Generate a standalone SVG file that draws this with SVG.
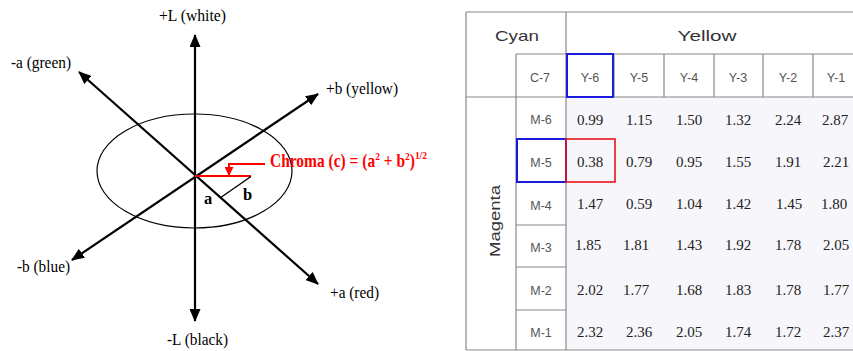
<svg xmlns="http://www.w3.org/2000/svg" width="853" height="351" viewBox="0 0 853 351">
<style>
.lbl{font-family:"Liberation Serif","Times New Roman",serif;font-size:16.5px;fill:#000}
.axis{stroke:#000;stroke-width:2.2;fill:none}
.grid{stroke:#888;stroke-width:1.2;fill:none}
.hd{font-family:"Liberation Sans",Arial,sans-serif;font-size:15px;fill:#333;text-anchor:middle}
.sm{font-family:"Liberation Sans",Arial,sans-serif;font-size:12.5px;fill:#555;text-anchor:middle}
.num{font-family:"Liberation Serif","Times New Roman",serif;font-size:15px;fill:#222;text-anchor:middle}
.red{fill:#f00;font-family:"Liberation Serif","Times New Roman",serif;font-weight:bold;font-size:18px}
</style>
<defs>
<marker id="ah" markerUnits="userSpaceOnUse" markerWidth="14" markerHeight="11" refX="12" refY="5.5" orient="auto-start-reverse">
<path d="M0,0 L13,5.5 L0,11 z" fill="#000"/>
</marker>
<marker id="rh" markerUnits="userSpaceOnUse" markerWidth="10" markerHeight="9" refX="8" refY="4.5" orient="auto">
<path d="M0,0 L9,4.5 L0,9 z" fill="#f00"/>
</marker>
</defs>
<rect width="853" height="351" fill="#fff"/>

<!-- Left: colour space diagram -->
<g id="ellipse"><ellipse cx="194.5" cy="171" rx="97.5" ry="57" fill="none" stroke="#000" stroke-width="1.2"/></g>
<g id="connectors">
<line class="axis" x1="195" y1="35" x2="195" y2="321" marker-start="url(#ah)" marker-end="url(#ah)"/>
<line class="axis" x1="79" y1="72" x2="318" y2="284" marker-start="url(#ah)" marker-end="url(#ah)"/>
<line class="axis" x1="72" y1="260" x2="318" y2="94" marker-start="url(#ah)" marker-end="url(#ah)"/>
<line x1="195" y1="176" x2="251" y2="176" stroke="#f00" stroke-width="2"/>
<line x1="251" y1="176.5" x2="220" y2="198" stroke="#000" stroke-width="1.4"/>
<path d="M265,164 L229,164 L229,175" fill="none" stroke="#f00" stroke-width="2" marker-end="url(#rh)"/>
</g>
<g id="labels">
<text class="lbl" x="159" y="21" textLength="67" lengthAdjust="spacingAndGlyphs">+L (white)</text>
<text class="lbl" x="167" y="345" textLength="61" lengthAdjust="spacingAndGlyphs">-L (black)</text>
<text class="lbl" x="11" y="68" textLength="60" lengthAdjust="spacingAndGlyphs">-a (green)</text>
<text class="lbl" x="326" y="94" textLength="72" lengthAdjust="spacingAndGlyphs">+b (yellow)</text>
<text class="lbl" x="17" y="272" textLength="53" lengthAdjust="spacingAndGlyphs">-b (blue)</text>
<text class="lbl" x="330" y="298" textLength="49" lengthAdjust="spacingAndGlyphs">+a (red)</text>
<text class="lbl" x="204" y="204" font-weight="bold" font-size="17">a</text>
<text class="lbl" x="243" y="200" font-weight="bold" font-size="17">b</text>
<text class="red" transform="translate(270,167) scale(0.86,1)" x="0" y="0">Chroma (c) = (a<tspan font-size="11" dy="-7">2</tspan><tspan dy="7"> + b</tspan><tspan font-size="11" dy="-7">2</tspan><tspan dy="7">)</tspan><tspan font-size="11" dy="-8">1/2</tspan></text>
</g>

<!-- Right: table -->
<g id="table">
<rect x="566" y="97" width="287" height="253" fill="#f7f6fa"/>
<g class="grid">
<line x1="466" y1="12" x2="853" y2="12"/>
<line x1="466" y1="12" x2="466" y2="350"/>
<line x1="566" y1="12" x2="566" y2="350"/>
<line x1="516" y1="54" x2="516" y2="350"/>
<line x1="516" y1="54" x2="853" y2="54"/>
<line x1="466" y1="97" x2="853" y2="97"/>
<line x1="466" y1="350" x2="853" y2="350"/>
<line x1="614" y1="54" x2="614" y2="97"/>
<line x1="664" y1="54" x2="664" y2="97"/>
<line x1="714" y1="54" x2="714" y2="97"/>
<line x1="763" y1="54" x2="763" y2="97"/>
<line x1="813" y1="54" x2="813" y2="97"/>
<line x1="516" y1="139" x2="566" y2="139"/>
<line x1="516" y1="182" x2="566" y2="182"/>
<line x1="516" y1="225" x2="566" y2="225"/>
<line x1="516" y1="267" x2="566" y2="267"/>
<line x1="516" y1="310" x2="566" y2="310"/>
</g>
<text class="hd" x="517" y="41" textLength="44" lengthAdjust="spacingAndGlyphs">Cyan</text>
<text class="hd" x="707" y="41" textLength="59" lengthAdjust="spacingAndGlyphs">Yellow</text>
<text class="hd" transform="translate(500,221) rotate(-90)" font-size="16" textLength="72" lengthAdjust="spacingAndGlyphs">Magenta</text>
<g class="sm">
<text x="540" y="82">C-7</text>
<text x="590" y="82">Y-6</text>
<text x="639" y="82">Y-5</text>
<text x="689" y="82">Y-4</text>
<text x="738" y="82">Y-3</text>
<text x="788" y="82">Y-2</text>
<text x="836" y="82">Y-1</text>
<text x="541" y="124">M-6</text>
<text x="541" y="167">M-5</text>
<text x="541" y="210">M-4</text>
<text x="541" y="252">M-3</text>
<text x="541" y="295">M-2</text>
<text x="541" y="337">M-1</text>
</g>
<g class="num">
<text x="590" y="125">0.99</text><text x="639" y="125">1.15</text><text x="689" y="125">1.50</text><text x="738" y="125">1.32</text><text x="788" y="125">2.24</text><text x="835" y="125">2.87</text>
<text x="590" y="167">0.38</text><text x="639" y="167">0.79</text><text x="689" y="167">0.95</text><text x="738" y="167">1.55</text><text x="788" y="167">1.91</text><text x="836" y="167">2.21</text>
<text x="590" y="209">1.47</text><text x="639" y="209">0.59</text><text x="689" y="209">1.04</text><text x="738" y="209">1.42</text><text x="789" y="209">1.45</text><text x="834" y="209">1.80</text>
<text x="588" y="250">1.85</text><text x="636" y="250">1.81</text><text x="689" y="250">1.43</text><text x="738" y="250">1.92</text><text x="788" y="250">1.78</text><text x="836" y="250">2.05</text>
<text x="590" y="295">2.02</text><text x="636" y="295">1.77</text><text x="689" y="295">1.68</text><text x="738" y="295">1.83</text><text x="788" y="295">1.78</text><text x="836" y="295">1.77</text>
<text x="590" y="337">2.32</text><text x="639" y="337">2.36</text><text x="689" y="337">2.05</text><text x="738" y="337">1.74</text><text x="788" y="337">1.72</text><text x="836" y="337">2.37</text>
</g>
<rect x="567" y="54" width="46" height="43" fill="none" stroke="#1a1ae0" stroke-width="2"/>
<rect x="517" y="139" width="49" height="43" fill="none" stroke="#1a1ae0" stroke-width="2"/>
<rect x="566" y="139" width="49" height="43" fill="none" stroke="#e8141e" stroke-width="1.6"/>
</g>
</svg>
